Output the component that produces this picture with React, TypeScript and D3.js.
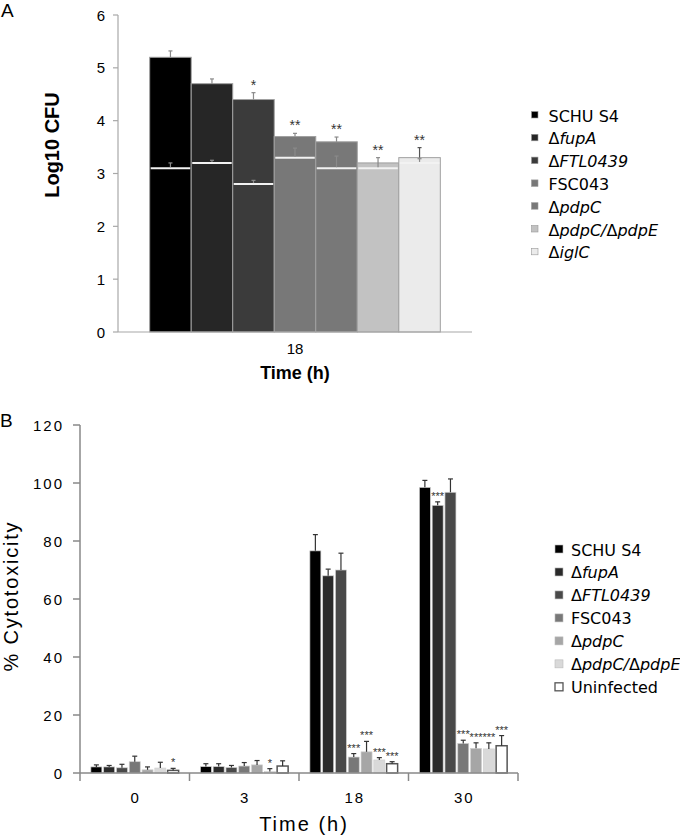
import React from 'react';
import * as d3 from 'd3';

// Panel A: log10 CFU at 18 h (tall bars) with the lower value drawn as a white line
const strainsA = ['SCHU S4', 'ΔfupA', 'ΔFTL0439', 'FSC043', 'ΔpdpC', 'ΔpdpC/ΔpdpE', 'ΔiglC'];
const cfuHigh = [5.2, 4.7, 4.4, 3.7, 3.6, 3.2, 3.3];
const cfuHighErr = [0.12, 0.09, 0.13, 0.06, 0.09, 0, 0.19];
const cfuLow = [3.1, 3.2, 2.8, 3.3, 3.1, 3.1, 3.2];
const cfuLowErr = [0.1, 0.05, 0.07, 0.18, 0.23, 0.2, 0.08];
const sigA = ['', '', '*', '**', '**', '**', '**'];
const colorsA = ['#000000', '#262626', '#3b3b3b', '#787878', '#787878', '#c2c2c2', '#ebebeb'];
const yTicksA = [0, 1, 2, 3, 4, 5, 6];

// Panel B: % cytotoxicity by time
const times = ['0', '3', '18', '30'];
const strainsB = ['SCHU S4', 'ΔfupA', 'ΔFTL0439', 'FSC043', 'ΔpdpC', 'ΔpdpC/ΔpdpE', 'Uninfected'];
const cytoSchu = [2.1, 2.2, 76.6, 98.5];
const cytoFupA = [2.1, 2.2, 68, 92.3];
const cytoFtl = [1.8, 1.9, 70, 96.8];
const cytoFsc = [3.9, 2.4, 5.5, 10.2];
const cytoPdpC = [1.1, 2.8, 7.3, 8.5];
const cytoPdpCE = [1.7, 0.5, 4.5, 8.3];
const cytoUninf = [0.9, 2.4, 3.2, 9.4];
const errSchu = [0.7, 1.0, 5.6, 2.4];
const errFupA = [0.5, 1.0, 2.3, 1.2];
const errFtl = [1.2, 0.7, 5.8, 4.6];
const errFsc = [1.9, 1.2, 1.2, 1.1];
const errPdpC = [1.0, 1.5, 3.6, 1.9];
const errPdpCE = [2.0, 1.0, 0.8, 2.1];
const errUninf = [0.7, 1.8, 0.7, 3.5];
const sigB = [
  ['', '', '', '', '', '', '*'],
  ['', '', '', '', '', '*', ''],
  ['', '', '', '***', '***', '***', '***'],
  ['', '***', '', '***', '***', '***', '***'],
];
const colorsB = ['#000000', '#2a2a2a', '#494949', '#787878', '#a6a6a6', '#d9d9d9', '#ffffff'];
const yTicksB = [0, 20, 40, 60, 80, 100, 120];

const cytoValues = [cytoSchu, cytoFupA, cytoFtl, cytoFsc, cytoPdpC, cytoPdpCE, cytoUninf];
const cytoErrors = [errSchu, errFupA, errFtl, errFsc, errPdpC, errPdpCE, errUninf];

const SANS = '"Liberation Sans", Arial, sans-serif';
const LEG = '"DejaVu Sans", sans-serif';

function Label({ text }: { text: string }) {
  if (!text.includes('Δ')) return <>{text}</>;
  const parts = text.split(/(Δ)/).filter(p => p);
  return (
    <>
      {parts.map((p, i) => (
        <tspan key={i} fontStyle={p === 'Δ' ? 'normal' : 'italic'}>{p}</tspan>
      ))}
    </>
  );
}

function ErrBar({ x, y0, y1, color, cap }: { x: number; y0: number; y1: number; color: string; cap: number }) {
  return (
    <g stroke={color} strokeWidth={1.2}>
      <line x1={x} x2={x} y1={y0} y2={y1} />
      <line x1={x - cap / 2} x2={x + cap / 2} y1={y1} y2={y1} />
    </g>
  );
}

export default function App() {
  // ---- panel A scales
  const yA = d3.scaleLinear().domain([0, 6]).range([332, 15]);
  const catA = d3.scaleBand().domain(['18']).range([118, 472]).paddingOuter(0.109);
  const x0A = catA('18') as number;
  const xA = d3.scaleBand().domain(strainsA).range([x0A, x0A + catA.bandwidth()]);
  const bwA = xA.bandwidth();

  // ---- panel B scales
  const yB = d3.scaleLinear().domain([0, 120]).range([773, 425]);
  const xGroup = d3.scaleBand().domain(times).range([80, 518]);
  const xStrain = d3.scaleBand().domain(strainsB).range([0, xGroup.bandwidth()]).paddingInner(0.14).paddingOuter(0.85);
  const bwB = xStrain.bandwidth();

  return (
    <svg width={680} height={837} style={{ position: 'absolute', left: 0, top: 0, background: '#fff' }}>
      {/* ================= Panel A ================= */}
      <text x={1} y={17} fontFamily={SANS} fontSize={19}>A</text>

      {/* bars */}
      {strainsA.map((s, i) => (
        <rect key={s} x={xA(s)} y={yA(cfuHigh[i])} width={bwA} height={yA(0) - yA(cfuHigh[i])}
          fill={colorsA[i]} stroke="#a0a0a0" strokeWidth={1} />
      ))}
      {strainsA.map((s, i) => (
        <line key={s} x1={(xA(s) as number) + 1} x2={(xA(s) as number) + bwA - 1}
          y1={yA(cfuLow[i])} y2={yA(cfuLow[i])} stroke="#f2f2f2" strokeWidth={2} />
      ))}
      {strainsA.map((s, i) => (
        cfuLowErr[i] > 0 ? (
          <ErrBar key={'l' + s} x={(xA(s) as number) + bwA / 2} y0={yA(cfuLow[i]) - 1}
            y1={yA(cfuLow[i] + cfuLowErr[i])} color="#8a8a8a" cap={4} />
        ) : null
      ))}
      {strainsA.map((s, i) => (
        cfuHighErr[i] > 0 ? (
          <ErrBar key={'h' + s} x={(xA(s) as number) + bwA / 2} y0={yA(cfuHigh[i])}
            y1={yA(cfuHigh[i] + cfuHighErr[i])} color={i === 6 ? '#555' : '#8a8a8a'} cap={4} />
        ) : null
      ))}
      {strainsA.map((s, i) => {
        const top = Math.max(cfuHigh[i] + cfuHighErr[i], cfuLow[i] + cfuLowErr[i]);
        return (
          <text key={'s' + s} x={(xA(s) as number) + bwA / 2} y={yA(top) - 3} textAnchor="middle"
            fontFamily={SANS} fontSize={14} fill="#333">{sigA[i]}</text>
        );
      })}

      {/* axes A */}
      <line x1={118} x2={118} y1={yA(6)} y2={yA(0)} stroke="#a8a8a8" strokeWidth={1.2} />
      <line x1={118} x2={472} y1={yA(0)} y2={yA(0)} stroke="#a8a8a8" strokeWidth={1.2} />
      {yTicksA.map(t => (
        <g key={t}>
          <line x1={113} x2={118} y1={yA(t)} y2={yA(t)} stroke="#a8a8a8" strokeWidth={1.2} />
          <text x={105} y={yA(t) + 5.5} textAnchor="end" fontFamily={SANS} fontSize={15}>{t}</text>
        </g>
      ))}
      <text x={x0A + catA.bandwidth() / 2} y={354} textAnchor="middle" fontFamily={SANS} fontSize={15}>18</text>
      <text x={x0A + catA.bandwidth() / 2} y={379} textAnchor="middle" fontFamily={SANS} fontSize={18}
        fontWeight="bold">Time (h)</text>
      <text transform="translate(59,145) rotate(-90)" textAnchor="middle" fontFamily={SANS} fontSize={20}
        fontWeight="bold">Log10 CFU</text>

      {/* legend A */}
      {strainsA.map((s, i) => (
        <g key={s} transform={`translate(531.5, ${121.5 + i * 22.8})`}>
          <rect x={0} y={-10} width={6.5} height={6.5} fill={colorsA[i]} stroke="#999" strokeWidth={0.6} />
          <text x={17} y={0} fontFamily={LEG} fontSize={16}><Label text={s} /></text>
        </g>
      ))}

      {/* ================= Panel B ================= */}
      <text x={0} y={427} fontFamily={SANS} fontSize={19}>B</text>

      {times.map((t, ti) => (
        <g key={t} transform={`translate(${xGroup(t)},0)`}>
          {strainsB.map((s, si) => {
            const v = cytoValues[si][ti];
            const isUninf = si === 6;
            return (
              <rect key={s} x={xStrain(s)} y={yB(v)} width={bwB} height={yB(0) - yB(v)}
                fill={colorsB[si]} stroke={isUninf ? '#555' : '#d0d0d0'} strokeWidth={isUninf ? 1.5 : 0.7} />
            );
          })}
          {strainsB.map((s, si) => {
            const v = cytoValues[si][ti];
            const e = cytoErrors[si][ti];
            return (
              <ErrBar key={s} x={(xStrain(s) as number) + bwB / 2} y0={yB(v)} y1={yB(v + e)} color="#333" cap={5} />
            );
          })}
          {strainsB.map((s, si) => {
            const v = cytoValues[si][ti];
            const e = cytoErrors[si][ti];
            return (
              <text key={s} x={(xStrain(s) as number) + bwB / 2} y={yB(v + e) - 2} textAnchor="middle"
                fontFamily={SANS} fontSize={11} fill="#333">{sigB[ti][si]}</text>
            );
          })}
          <text x={xGroup.bandwidth() / 2 + 1} y={803} textAnchor="middle" fontFamily={SANS} fontSize={15}
            letterSpacing={2}>{t}</text>
        </g>
      ))}

      {/* axes B */}
      <line x1={80} x2={80} y1={yB(120)} y2={yB(0)} stroke="#888" strokeWidth={1.5} />
      <line x1={80} x2={518} y1={yB(0)} y2={yB(0)} stroke="#888" strokeWidth={1.5} />
      {[...times.map(t => xGroup(t) as number), 518].map((x, i) => (
        <line key={i} x1={x} x2={x} y1={yB(0)} y2={yB(0) + 8} stroke="#888" strokeWidth={1.5} />
      ))}
      {yTicksB.map(t => (
        <g key={t}>
          <line x1={73} x2={80} y1={yB(t)} y2={yB(t)} stroke="#888" strokeWidth={1.5} />
          <text x={64} y={yB(t) + 5.5} textAnchor="end" fontFamily={SANS} fontSize={15} letterSpacing={2}>{t}</text>
        </g>
      ))}
      <text x={304} y={831} textAnchor="middle" fontFamily={SANS} fontSize={20} letterSpacing={2}>Time (h)</text>
      <text transform="translate(18,596) rotate(-90)" textAnchor="middle" fontFamily={SANS} fontSize={20}
        letterSpacing={1.8}>% Cytotoxicity</text>

      {/* legend B */}
      {strainsB.map((s, i) => (
        <g key={s} transform={`translate(555, ${555.5 + i * 22.97})`}>
          <rect x={0} y={-10.5} width={8} height={8} fill={colorsB[i]}
            stroke={i === 6 ? '#555' : '#bbb'} strokeWidth={i === 6 ? 1.3 : 0.6} />
          <text x={16} y={0} fontFamily={LEG} fontSize={16}><Label text={s} /></text>
        </g>
      ))}
    </svg>
  );
}
